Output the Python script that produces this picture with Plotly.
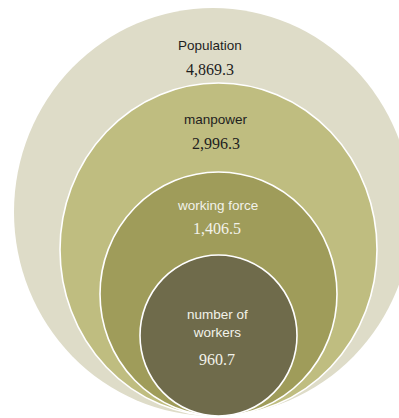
import plotly.graph_objects as go

# Labour-force breakdown (thousands)
labels = ["Population", "manpower", "working force", "number of<br>workers"]
values = [4869.3, 2996.3, 1406.5, 960.7]

# Nested ellipse outlines in pixel coordinates: (x0, y0, x1, y1)
bounds = [(14, 8, 412, 416), (60, 83, 377, 416), (100, 172, 337, 416), (140, 255, 297, 416)]
fills = ["#DEDCC8", "#BFBD80", "#9F9C5A", "#6F6B4B"]
text_colors = ["#1e1e1e", "#1e1e1e", "#F2F2EA", "#F2F2EA"]
# Label anchors: (x, label y, value y)
anchors = [(210, 45, 69), (216, 119, 143), (217, 205, 228), (217, 323, 359)]

fig = go.Figure()
fig.add_trace(go.Scatter(x=[0, 399], y=[0, 418], mode="markers",
                         marker=dict(opacity=0), hoverinfo="skip", showlegend=False))

for i, (b, c) in enumerate(zip(bounds, fills)):
    fig.add_shape(type="circle", xref="x", yref="y",
                  x0=b[0], y0=b[1], x1=b[2], y1=b[3],
                  fillcolor=c,
                  line=dict(color="white", width=0 if i == 0 else 1.6),
                  layer="below")

for lab, val, (ax, ly, vy), tc in zip(labels, values, anchors, text_colors):
    fig.add_annotation(x=ax, y=ly, xref="x", yref="y", text=lab, showarrow=False,
                       font=dict(family="Liberation Sans", size=13.5, color=tc),
                       align="center")
    fig.add_annotation(x=ax, y=vy, xref="x", yref="y", text=f"{val:,.1f}", showarrow=False,
                       font=dict(family="Liberation Serif", size=16, color=tc))

fig.update_layout(
    width=399, height=418,
    margin=dict(l=0, r=0, t=0, b=0),
    paper_bgcolor="white", plot_bgcolor="white",
    xaxis=dict(range=[0, 399], visible=False, fixedrange=True),
    yaxis=dict(range=[418, 0], visible=False, fixedrange=True),
    showlegend=False,
)

fig.write_html("out.html")
